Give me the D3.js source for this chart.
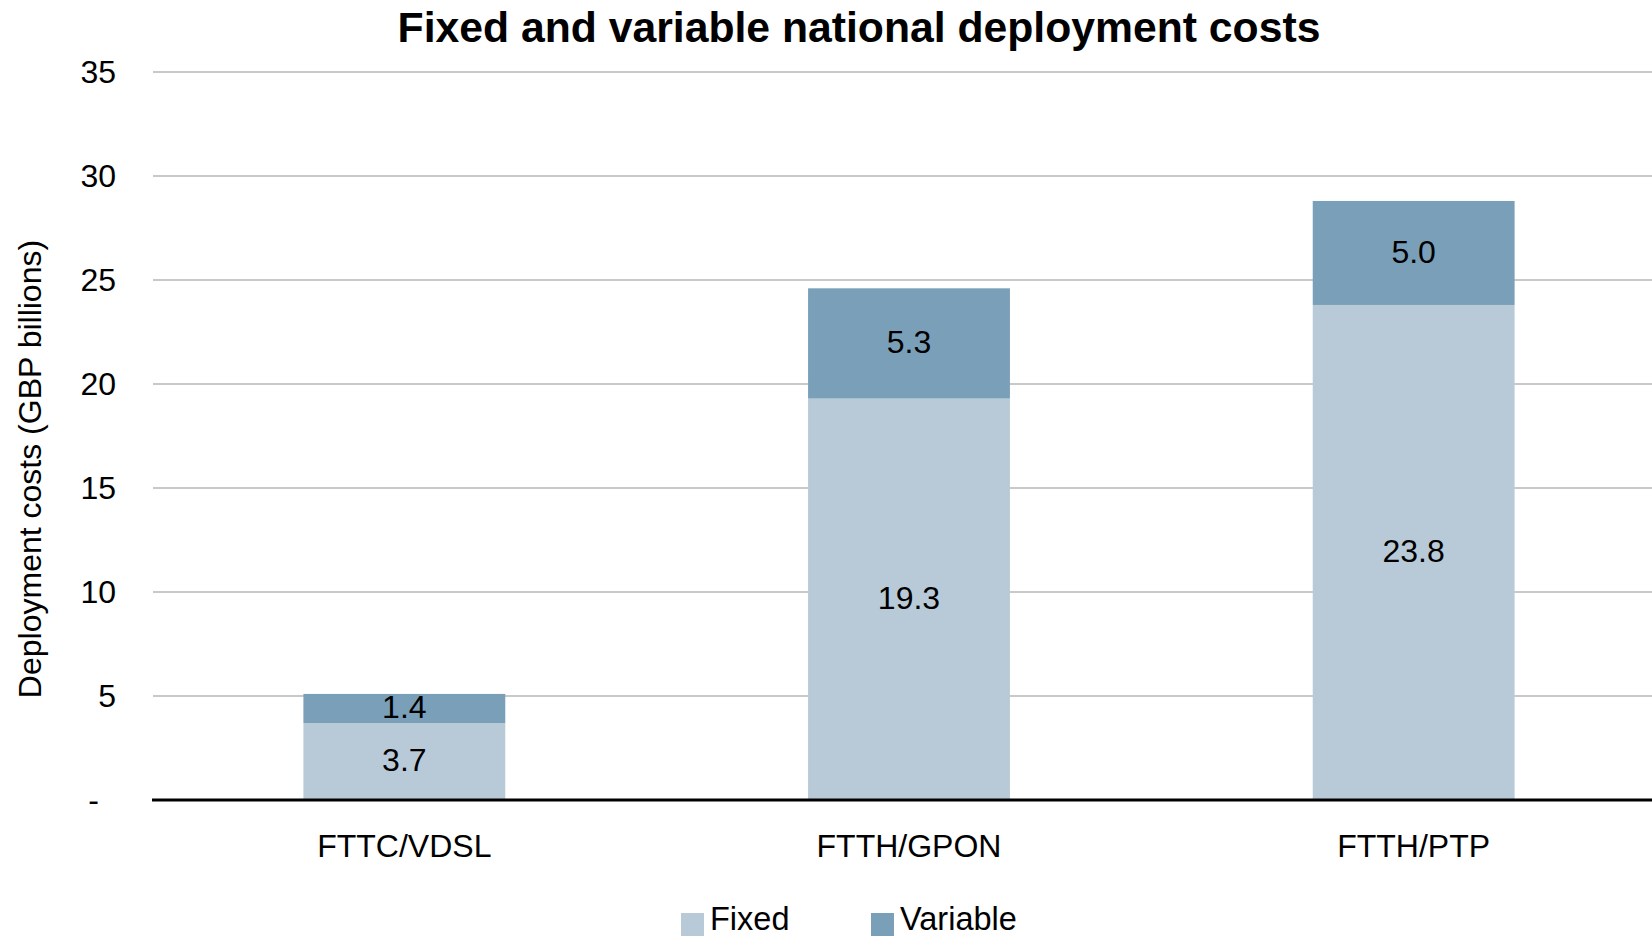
<!DOCTYPE html>
<html>
<head>
<meta charset="utf-8">
<script src="https://cdn.jsdelivr.net/npm/d3@7"></script>
<style>
  html, body { margin: 0; padding: 0; background: #ffffff; }
  svg { display: block; font-family: "Liberation Sans", Arial, sans-serif; }
</style>
</head>
<body>
<svg id="chart" width="1652" height="936"></svg>
<script>
// Chart data
const categories = ["FTTC/VDSL", "FTTH/GPON", "FTTH/PTP"];
const seriesNames = ["Fixed", "Variable"];
const fixedValues = [3.7, 19.3, 23.8];
const variableValues = [1.4, 5.3, 5.0];
const yTicks = [0, 5, 10, 15, 20, 25, 30, 35];
const yTickLabels = ["-", "5", "10", "15", "20", "25", "30", "35"];
const titleText = "Fixed and variable national deployment costs";
const yAxisTitle = "Deployment costs (GBP billions)";

const colors = { Fixed: "#b8cad8", Variable: "#7a9fb8" };

const W = 1652, H = 936;
const plot = { left: 152, right: 1666, top: 72, bottom: 800 };
const fontSize = 32;

const svg = d3.select("#chart");

const rows = categories.map((c, i) => ({ category: c, Fixed: fixedValues[i], Variable: variableValues[i] }));
const stacked = d3.stack().keys(seriesNames)(rows);

const x = d3.scaleBand()
  .domain(categories)
  .range([plot.left, plot.right])
  .paddingInner(0.6)
  .paddingOuter(0.3);

const y = d3.scaleLinear()
  .domain([0, 35])
  .range([plot.bottom, plot.top]);

// Horizontal gridlines
svg.append("g")
  .selectAll("line")
  .data(yTicks.filter(d => d > 0))
  .join("line")
  .attr("x1", plot.left + 1)
  .attr("x2", plot.right)
  .attr("y1", d => y(d))
  .attr("y2", d => y(d))
  .attr("stroke", "#c9c9c9")
  .attr("stroke-width", 2);

// Y axis tick labels
const yAxis = d3.axisLeft(y)
  .tickValues(yTicks)
  .tickFormat((d, i) => yTickLabels[i])
  .tickSize(0)
  .tickPadding(0);

const yg = svg.append("g")
  .attr("transform", `translate(${116},0)`)
  .call(yAxis);
yg.select(".domain").remove();
yg.selectAll("text")
  .attr("font-size", fontSize)
  .attr("font-family", "'Liberation Sans', Arial, sans-serif")
  .attr("fill", "#000")
  .attr("dx", d => d === 0 ? -17 : 0);

// Stacked bars
const layers = svg.append("g")
  .selectAll("g")
  .data(stacked)
  .join("g")
  .attr("fill", d => colors[d.key]);

layers.selectAll("rect")
  .data(d => d)
  .join("rect")
  .attr("x", d => x(d.data.category))
  .attr("width", x.bandwidth())
  .attr("y", d => y(d[1]))
  .attr("height", d => y(d[0]) - y(d[1]));

// Value labels inside each segment
layers.selectAll("text")
  .data(d => d.map(s => ({ s, key: d.key })))
  .join("text")
  .attr("x", d => x(d.s.data.category) + x.bandwidth() / 2)
  .attr("y", d => (y(d.s[0]) + y(d.s[1])) / 2)
  .attr("dy", "0.3em")
  .attr("text-anchor", "middle")
  .attr("font-size", fontSize)
  .attr("fill", "#000")
  .text(d => d3.format(".1f")(d.s.data[d.key]));

// X axis baseline and category labels
const xAxis = d3.axisBottom(x).tickSize(0).tickPadding(0);
const xg = svg.append("g")
  .attr("transform", `translate(0,${plot.bottom})`)
  .call(xAxis);
xg.select(".domain")
  .attr("d", `M${plot.left},0H${plot.right}`)
  .attr("stroke", "#000")
  .attr("stroke-width", 3);
xg.selectAll("text")
  .attr("font-size", fontSize)
  .attr("font-family", "'Liberation Sans', Arial, sans-serif")
  .attr("fill", "#000")
  .attr("y", 57)
  .attr("dy", 0);

// Title
svg.append("text")
  .attr("x", 859)
  .attr("y", 42)
  .attr("text-anchor", "middle")
  .attr("font-size", 42.7)
  .attr("font-weight", "bold")
  .attr("fill", "#000")
  .text(titleText);

// Y axis title
svg.append("text")
  .attr("transform", `translate(41,469) rotate(-90)`)
  .attr("text-anchor", "middle")
  .attr("font-size", fontSize)
  .attr("fill", "#000")
  .text(yAxisTitle);

// Legend
const legendX = d3.scaleOrdinal().domain(seriesNames).range([681, 871]);
const legend = svg.append("g")
  .selectAll("g")
  .data(seriesNames)
  .join("g")
  .attr("transform", d => `translate(${legendX(d)},913)`);
legend.append("rect")
  .attr("width", 23)
  .attr("height", 23)
  .attr("fill", d => colors[d]);
legend.append("text")
  .attr("x", 29)
  .attr("y", 17)
  .attr("font-size", 32.5)
  .attr("fill", "#000")
  .text(d => d);
</script>
</body>
</html>
